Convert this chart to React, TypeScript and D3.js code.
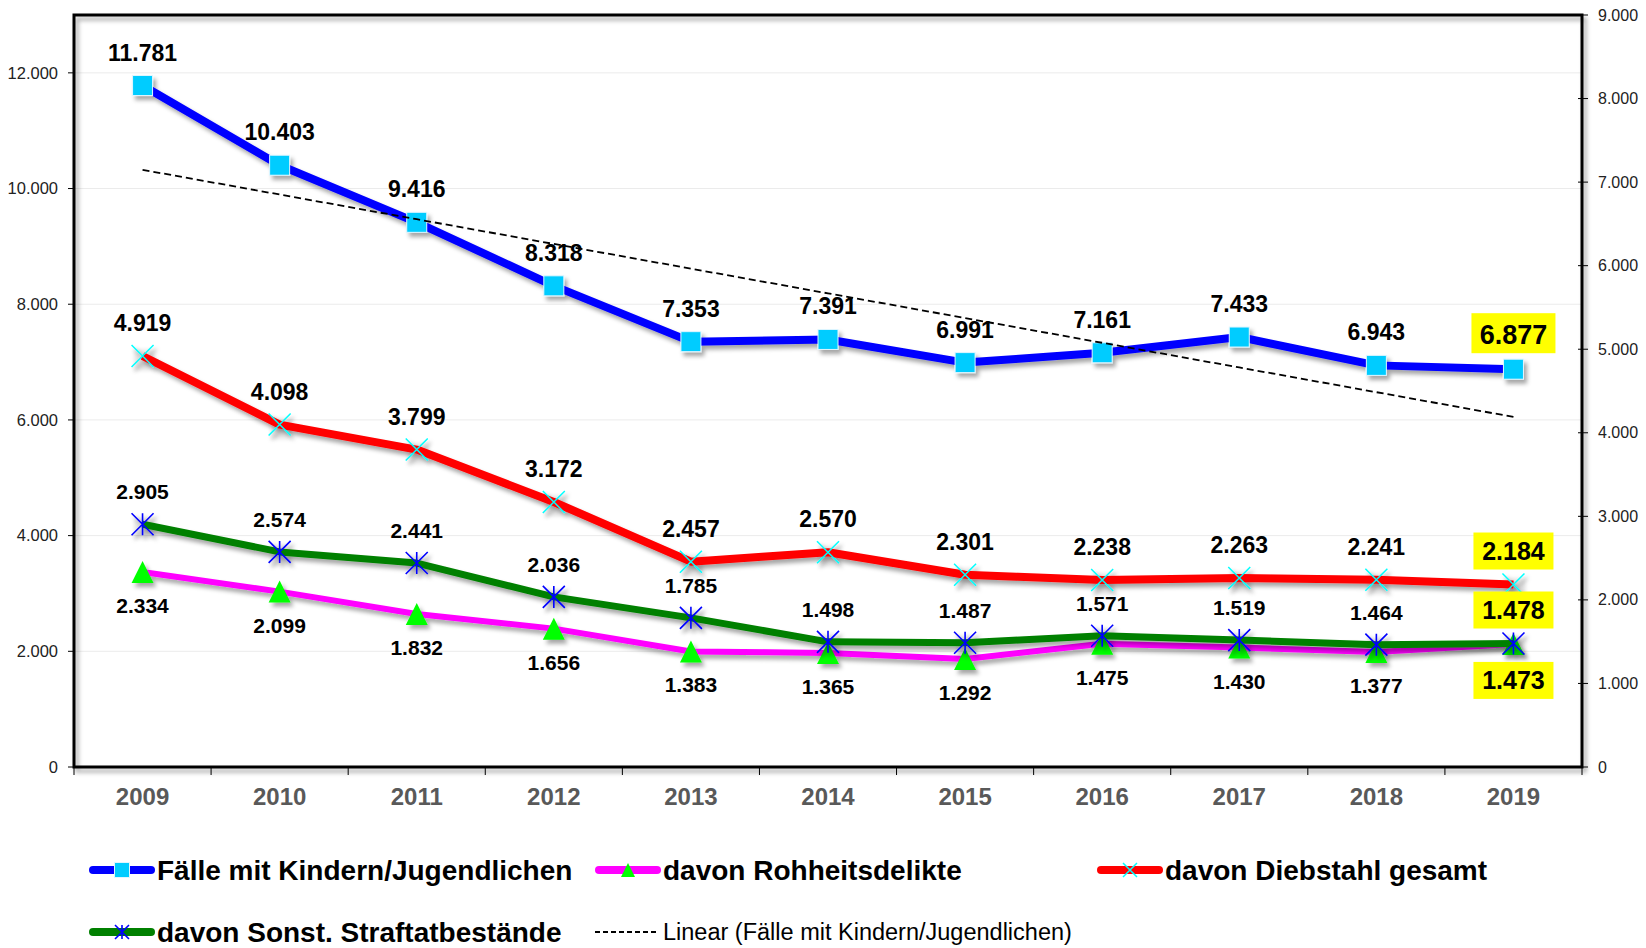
import React from 'react'
import * as d3 from 'd3'

const years = ['2009', '2010', '2011', '2012', '2013', '2014', '2015', '2016', '2017', '2018', '2019']
const faelle = [11781, 10403, 9416, 8318, 7353, 7391, 6991, 7161, 7433, 6943, 6877]
const rohheit = [2334, 2099, 1832, 1656, 1383, 1365, 1292, 1475, 1430, 1377, 1473]
const diebstahl = [4919, 4098, 3799, 3172, 2457, 2570, 2301, 2238, 2263, 2241, 2184]
const sonstige = [2905, 2574, 2441, 2036, 1785, 1498, 1487, 1571, 1519, 1464, 1478]
const leftTicks = [0, 2000, 4000, 6000, 8000, 10000, 12000]
const rightTicks = [0, 1000, 2000, 3000, 4000, 5000, 6000, 7000, 8000, 9000]

const W = 1646
const H = 948
const left = 74
const right = 1582
const top = 15
const bottom = 767

const FONT = '"Liberation Sans", Arial, sans-serif'

const de = d3.formatLocale({ decimal: ',', thousands: '.', grouping: [3], currency: ['', ''] })
const fmt = de.format(',')

const x = d3.scaleBand<string>().domain(years).range([left, right])
const cx = (yr: string) => (x(yr) as number) + x.bandwidth() / 2
const yL = d3.scaleLinear().domain([0, 13000]).range([bottom, top])
const yR = d3.scaleLinear().domain([0, 9000]).range([bottom, top])

// linear trend of the first series (Excel "Linear" trendline)
const idx = faelle.map((_, i) => i)
const mx = d3.mean(idx) as number
const my = d3.mean(faelle) as number
const slope =
  (d3.sum(idx, i => (i - mx) * (faelle[i] - my)) as number) /
  (d3.sum(idx, i => (i - mx) * (i - mx)) as number)
const trend = idx.map(i => my + slope * (i - mx))

type Marker = 'square' | 'triangle' | 'x' | 'star'

const series = [
  { name: 'Fälle mit Kindern/Jugendlichen', values: faelle, scale: yL, color: '#0000FF', width: 8, marker: 'square' as Marker, below: false, fs: 23 },
  { name: 'davon Rohheitsdelikte', values: rohheit, scale: yR, color: '#FF00FF', width: 6, marker: 'triangle' as Marker, below: true, fs: 21 },
  { name: 'davon Diebstahl gesamt', values: diebstahl, scale: yR, color: '#FF0000', width: 8, marker: 'x' as Marker, below: false, fs: 23 },
  { name: 'davon Sonst. Straftatbestände', values: sonstige, scale: yR, color: '#008000', width: 7, marker: 'star' as Marker, below: false, fs: 21 },
]

function MarkerShape({ type, px, py, s }: { type: Marker; px: number; py: number; s: number }) {
  const h = s / 2
  if (type === 'square')
    return <rect x={px - h} y={py - h} width={s} height={s} fill="#00CCFF" stroke="#dff6ff" strokeWidth={1} />
  if (type === 'triangle')
    return <path d={`M${px},${py - h}L${px + h},${py + h}L${px - h},${py + h}Z`} fill="#00FF00" />
  if (type === 'x')
    return (
      <path d={`M${px - h},${py - h}L${px + h},${py + h}M${px + h},${py - h}L${px - h},${py + h}`}
        stroke="#00FFFF" strokeWidth={1.5} fill="none" />
    )
  return (
    <path d={`M${px - h},${py - h}L${px + h},${py + h}M${px + h},${py - h}L${px - h},${py + h}M${px},${py - h}L${px},${py + h}`}
      stroke="#0000FF" strokeWidth={1.6} fill="none" />
  )
}

export default function App() {
  const legendItems = [
    { s: series[0], lx: 89, ly: 870 },
    { s: series[1], lx: 595, ly: 870 },
    { s: series[2], lx: 1097, ly: 870 },
    { s: series[3], lx: 89, ly: 932 },
  ]
  const trendLine = d3.line<number>().x((_, i) => cx(years[i])).y(d => yL(d))

  return (
    <svg width={W} height={H} style={{ position: 'absolute', left: 0, top: 0, background: '#fff' }} fontFamily={FONT}>
      <defs>
        <filter id="shadow" x="-10%" y="-10%" width="130%" height="130%">
          <feDropShadow dx={3} dy={4} stdDeviation={2.2} floodColor="#000" floodOpacity={0.35} />
        </filter>
        <filter id="blur" x="-50%" y="-50%" width="200%" height="200%">
          <feGaussianBlur stdDeviation={2} />
        </filter>
      </defs>

      {/* gridlines */}
      {leftTicks.filter(t => t > 0).map(t => (
        <line key={t} x1={left} x2={right} y1={yL(t)} y2={yL(t)} stroke="#ebebeb" strokeWidth={1} />
      ))}

      {/* frame */}
      <rect x={left} y={top} width={right - left} height={bottom - top} fill="none" stroke="#000" strokeWidth={3} filter="url(#shadow)" />

      {/* left axis */}
      {leftTicks.map(t => (
        <g key={t}>
          <line x1={left - 6} x2={left} y1={yL(t)} y2={yL(t)} stroke="#000" strokeWidth={1} />
          <text x={58} y={yL(t)} dy="0.35em" textAnchor="end" fontSize={16.5} fill="#222">{fmt(t)}</text>
        </g>
      ))}

      {/* right axis */}
      {rightTicks.map(t => (
        <g key={t}>
          <line x1={right - 4} x2={right + 6} y1={yR(t)} y2={yR(t)} stroke="#000" strokeWidth={1} />
          <text x={1598} y={yR(t)} dy="0.35em" textAnchor="start" fontSize={16} fill="#222">{fmt(t)}</text>
        </g>
      ))}

      {/* x axis */}
      {years.map(yr => (
        <g key={yr}>
          <line x1={x(yr) as number} x2={x(yr) as number} y1={bottom} y2={bottom + 8} stroke="#000" strokeWidth={1} />
          <text x={cx(yr)} y={805} textAnchor="middle" fontSize={24} fontWeight="bold" fill="#595959">{yr}</text>
        </g>
      ))}
      <line x1={right} x2={right} y1={bottom} y2={bottom + 8} stroke="#000" strokeWidth={1} />

      {/* series */}
      {series.map(s => {
        const line = d3.line<number>().x((_, i) => cx(years[i])).y(d => s.scale(d))
        return (
          <g key={s.name}>
            {(s.marker === 'x' || s.marker === 'star') && s.values.map((v, i) => (
              <rect key={i} x={cx(years[i]) - 8} y={s.scale(v) - 6} width={20} height={20} fill="#000" opacity={0.12} filter="url(#blur)" />
            ))}
            <g filter="url(#shadow)">
              <path d={line(s.values) as string} fill="none" stroke={s.color} strokeWidth={s.width} strokeLinejoin="round" />
              {s.values.map((v, i) => (
                <MarkerShape key={i} type={s.marker} px={cx(years[i])} py={s.scale(v)} s={s.marker === 'square' ? 20 : 22} />
              ))}
            </g>
          </g>
        )
      })}

      {/* data labels */}
      {series.map(s => (
        <g key={s.name + '-lab'}>
          {s.values.map((v, i) => {
            const last = i === s.values.length - 1
            const px = cx(years[i])
            const py = s.scale(v)
            const fs = last ? (s.marker === 'square' ? 27 : 25) : s.fs
            const base = s.below ? py + (last ? 45 : 41) : py - 25
            return (
              <g key={i}>
                {last && (
                  <rect x={px - (fs === 27 ? 42 : 40)} y={base - (fs === 27 ? 31 : 27)} width={fs === 27 ? 84 : 80} height={fs === 27 ? 40 : 37} fill="#FFFF00" />
                )}
                <text x={px} y={base} textAnchor="middle" fontSize={fs} fontWeight="bold" fill="#000">{fmt(v)}</text>
              </g>
            )
          })}
        </g>
      ))}

      {/* trend */}
      <path d={trendLine(trend) as string} fill="none" stroke="#000" strokeWidth={1.8} strokeDasharray="7,4" />

      {/* legend */}
      {legendItems.map(({ s, lx, ly }) => (
        <g key={s.name + '-leg'}>
          <line x1={lx + 4} x2={lx + 62} y1={ly} y2={ly} stroke={s.color} strokeWidth={8} strokeLinecap="round" />
          <MarkerShape type={s.marker} px={lx + 33} py={ly} s={s.marker === 'square' ? 15 : 14} />
          <text x={lx + 68} y={ly + 10} fontSize={28} fontWeight="bold" fill="#000">{s.name}</text>
        </g>
      ))}
      <line x1={595} x2={659} y1={932} y2={932} stroke="#000" strokeWidth={1.8} strokeDasharray="5,3" />
      <text x={663} y={940} fontSize={23.5} fill="#000">Linear (Fälle mit Kindern/Jugendlichen)</text>
    </svg>
  )
}
